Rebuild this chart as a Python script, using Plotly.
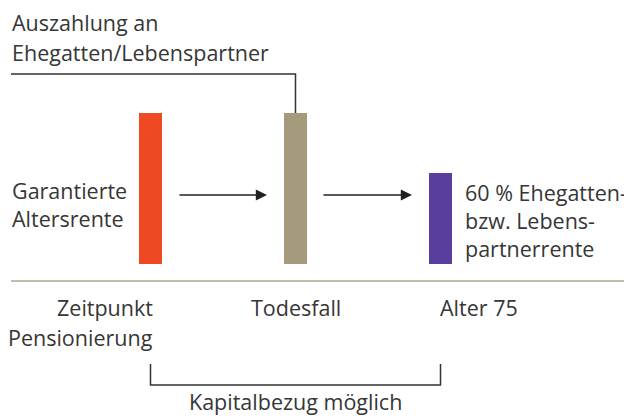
import plotly.graph_objects as go

# Data
stages = ["Zeitpunkt Pensionierung", "Todesfall", "Alter 75"]
values = [100, 100, 60]
bar_colors = ["#EF4923", "#A59A7C", "#5A3E9E"]

OFF = 8  # default page body margin
W, H = 632 - OFF, 418 - OFF
# axis mapping (page pixel geometry)
X0_PX, X_STEP = 150.5 - OFF, 145.0
Y0_PX, Y_STEP = 264.0 - OFF, 1.51
x_range = [-X0_PX / X_STEP, (W - X0_PX) / X_STEP]
y_range = [-(H - Y0_PX) / Y_STEP, Y0_PX / Y_STEP]

def dx(px):
    return (px - OFF - X0_PX) / X_STEP

def dy(py):
    return (Y0_PX - (py - OFF)) / Y_STEP

FONT = "Open Sans"
TXT = "#363636"
FS = 21.5

fig = go.Figure()
fig.add_trace(go.Bar(
    x=list(range(len(stages))), y=values,
    marker=dict(color=bar_colors, line=dict(width=0)),
    width=0.159, hoverinfo="skip", showlegend=False,
))

shapes = []
shapes.append(dict(type="line", x0=dx(11), x1=dx(627), y0=dy(281), y1=dy(281),
                   line=dict(color="#C4BCAE", width=2)))
shapes.append(dict(type="path",
                   path=f"M {dx(11)},{dy(74)} L 1,{dy(74)} L 1,{values[1]}",
                   line=dict(color="#333333", width=1.5)))
shapes.append(dict(type="path",
                   path=f"M 0,{dy(364)} L 0,{dy(385)} L 2,{dy(385)} L 2,{dy(364)}",
                   line=dict(color="#333333", width=1.5)))

ann = []
def text(s, xpx, ypx, anchor="left"):
    ann.append(dict(text=s, x=dx(xpx), y=dy(ypx), xref="x", yref="y",
                    xanchor=anchor, yanchor="middle", showarrow=False,
                    font=dict(family=FONT, size=FS, color=TXT)))

text("Auszahlung an", 10, 22)
text("Ehegatten/Lebenspartner", 10, 52)
text("Garantierte", 10, 190)
text("Altersrente", 10, 218)
text("60 % Ehegatten-", 463, 192)
text("bzw. Lebens-", 463, 220)
text("partnerrente", 463, 248)
text("Zeitpunkt", 155, 307, "right")
text("Pensionierung", 155, 337, "right")
text("Todesfall", 295.5, 307, "center")
text("Alter 75", 438, 307, "left")
text("Kapitalbezug möglich", 295, 401, "center")

for x_start, x_end in [(178, 267), (322, 412)]:
    ann.append(dict(x=dx(x_end), y=dy(195), ax=dx(x_start), ay=dy(195),
                    xref="x", yref="y", axref="x", ayref="y", text="",
                    showarrow=True, arrowhead=2, arrowsize=1.6, arrowwidth=1.4,
                    arrowcolor="#231F20", standoff=0))

fig.update_layout(
    width=W, height=H, margin=dict(l=0, r=0, t=0, b=0),
    paper_bgcolor="white", plot_bgcolor="white",
    xaxis=dict(range=x_range, visible=False, fixedrange=True),
    yaxis=dict(range=y_range, visible=False, fixedrange=True),
    shapes=shapes, annotations=ann, bargap=0,
)
fig.write_html("out.html")
